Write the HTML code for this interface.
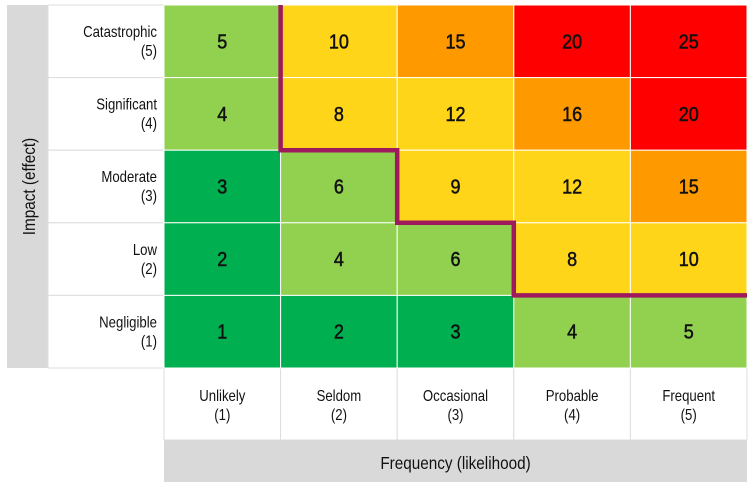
<!DOCTYPE html>
<html><head><meta charset="utf-8"><style>
html,body{margin:0;padding:0;background:#fff;}
svg{display:block;font-family:"Liberation Sans",Arial,sans-serif;}
</style></head><body>
<svg id="chart" width="754" height="489" viewBox="0 0 754 489"></svg>
<script>
const impactLabels = ["Catastrophic","Significant","Moderate","Low","Negligible"];
const impactValues = [5,4,3,2,1];
const freqLabels = ["Unlikely","Seldom","Occasional","Probable","Frequent"];
const freqValues = [1,2,3,4,5];
const boundaryRows = [0,2,3,4,4];
const colorOf = s => s>=20?"#ff0000":s>=15?"#ff9900":s>=8?"#ffd51a":s>=4?"#92d050":"#00b050";
const svg = document.getElementById('chart');
const NS = "http://www.w3.org/2000/svg";
const gx0=164, gx1=747, gy0=5, gy1=368;
const cw=(gx1-gx0)/freqValues.length, rh=(gy1-gy0)/impactValues.length;
const xAt=i=>gx0+i*cw, yAt=j=>gy0+j*rh;
function mk(tag,attrs,parent){const e=document.createElementNS(NS,tag);for(const k in attrs)e.setAttribute(k,attrs[k]);(parent||svg).appendChild(e);return e;}
function txt(x,y,s,size,anchor,parent,sx){const g=mk('g',{transform:`translate(${x},${y}) scale(${sx||0.85},1)`},parent);const t=mk('text',{x:0,y:0,'font-size':size,'text-anchor':anchor,fill:'#111'},g);t.textContent=s;return t;}
mk('rect',{x:7,y:5,width:41,height:363,fill:'#d9d9d9'});
const yt=mk('text',{transform:'translate(35,186.5) rotate(-90) scale(0.85,1)','font-size':18,'text-anchor':'middle',fill:'#111'});
yt.textContent="Impact (effect)";


mk('rect',{x:164,y:440,width:583,height:42,fill:'#d9d9d9'});
const xt=mk('text',{transform:'translate(455.5,469) scale(0.85,1)','font-size':18,'text-anchor':'middle',fill:'#111'});
xt.textContent="Frequency (likelihood)";


impactLabels.forEach((l,j)=>{
  const g=mk('g',{});
  
  
  mk('rect',{x:48,y:yAt(j),width:116,height:rh,fill:'#fff',stroke:'#ddd','stroke-width':1},g);
  txt(157,yAt(j)+32,l,15.5,'end',g);
  txt(157,yAt(j)+51,"("+impactValues[j]+")",15.5,'end',g);
});
freqLabels.forEach((l,i)=>{
  const g=mk('g',{});
  
  
  mk('rect',{x:xAt(i),y:368,width:cw,height:72,fill:'#fff',stroke:'#ddd','stroke-width':1},g);
  txt(xAt(i)+cw/2,401,l,15.5,'middle',g);
  txt(xAt(i)+cw/2,420,"("+freqValues[i]+")",15.5,'middle',g);
});
impactValues.forEach((iv,j)=>{
  freqValues.forEach((fv,i)=>{
    const s=iv*fv;
    const g=mk('g',{});
    
    
    mk('rect',{x:xAt(i),y:yAt(j),width:cw,height:rh,fill:colorOf(s),stroke:'#fff','stroke-width':1},g);
    const t=txt(xAt(i)+cw/2,yAt(j)+rh/2+7,String(s),20,'middle',g,0.9);
    t.setAttribute('stroke','#111');t.setAttribute('stroke-width','0.5');
  });
});
let d=`M${xAt(1)},${gy0}`;
for(let i=1;i<freqValues.length;i++){
  d+=` L${xAt(i)},${yAt(boundaryRows[i])} L${xAt(i+1)},${yAt(boundaryRows[i])}`;
}
const p=mk('path',{d:d,fill:'none',stroke:'#9e1a5c','stroke-width':4.5,'stroke-linejoin':'miter'});


</script>
</body></html>
